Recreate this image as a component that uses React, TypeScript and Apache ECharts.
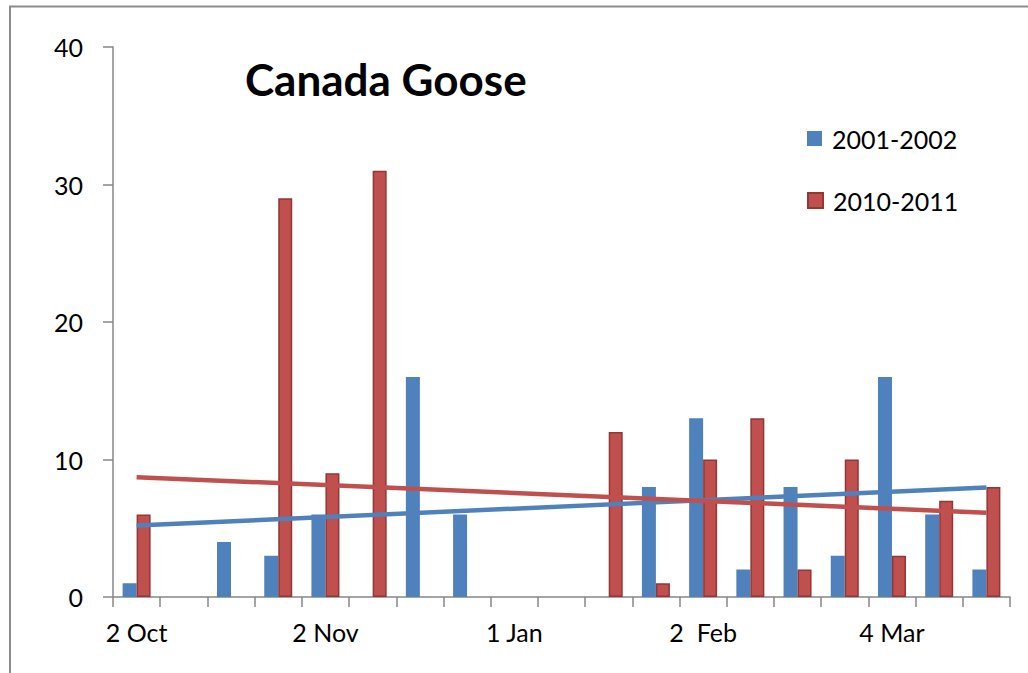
import React, { useEffect, useRef } from "react";
import * as echarts from "echarts";

const FONT = "Lato, 'Open Sans', 'Noto Sans', sans-serif";

// Survey weeks along the category axis; only some carry a date label
const weekLabels = [
  "2 Oct", "", "", "", "2 Nov", "", "", "", "1 Jan", "", "", "",
  "2  Feb", "", "", "", "4 Mar", "", "",
];
const weekKeys = weekLabels.map((_, i) => `w${i + 1}`);

// 2001-2002 season counts (null = no count recorded that week)
const counts2001: (number | null)[] = [
  1, null, 4, 3, 6, null, 16, 6, null, null, null, 8, 13, 2, 8, 3, 16, 6, 2,
];
// 2010-2011 season counts
const counts2010: number[] = [
  6, 0, 0, 29, 9, 31, 0, 0, 0, 0, 12, 1, 10, 13, 2, 10, 3, 7, 8,
];

const BLUE = "#4F81BD";
const RED = "#C0504D";
const RED_EDGE = "#933634";
const AXIS_GREY = "#878787";

// Least-squares linear trend over the recorded weeks, returned as its two end points
function linearTrend(values: (number | null)[]): [number, number][] {
  const pts = values
    .map((v, i) => [i, v] as [number, number | null])
    .filter((p) => p[1] !== null) as [number, number][];
  const n = pts.length;
  const mx = pts.reduce((s, p) => s + p[0], 0) / n;
  const my = pts.reduce((s, p) => s + p[1], 0) / n;
  let sxy = 0;
  let sxx = 0;
  for (const [x, y] of pts) {
    sxy += (x - mx) * (y - my);
    sxx += (x - mx) * (x - mx);
  }
  const slope = sxy / sxx;
  const icpt = my - slope * mx;
  const last = values.length - 1;
  return [
    [0, icpt],
    [last, icpt + slope * last],
  ];
}

export default function App() {
  const ref = useRef<HTMLDivElement>(null);

  useEffect(() => {
    if (!ref.current) return;
    const chart = echarts.init(ref.current, undefined, { renderer: "svg" });

    const textBase = { fontFamily: FONT, color: "#000", fontSize: 25 };

    chart.setOption({
      animation: false,
      backgroundColor: "#fff",
      title: {
        text: "Canada Goose",
        left: 245,
        top: 57,
        padding: 0,
        textStyle: { ...textBase, fontSize: 44, fontWeight: "bold" },
      },
      legend: [
        {
          data: ["2001-2002"],
          left: 807,
          top: 126,
          padding: 0,
          icon: "rect",
          itemWidth: 15,
          itemHeight: 15,
          textStyle: { ...textBase, padding: [0, 0, 0, 5] },
        },
        {
          data: ["2010-2011"],
          left: 807,
          top: 188,
          padding: 0,
          icon: "rect",
          itemWidth: 15,
          itemHeight: 15,
          textStyle: { ...textBase, padding: [0, 0, 0, 5] },
        },
      ],
      graphic: [
        {
          type: "rect",
          shape: { x: 10, y: 6.5, width: 1200, height: 1000 },
          style: { fill: "none", stroke: "#8c8c8c", lineWidth: 2 },
          silent: true,
          z: -1,
        },
      ],
      grid: { left: 113, right: 18, top: 47, bottom: 76 },
      xAxis: {
        type: "category",
        data: weekKeys,
        boundaryGap: true,
        axisLine: { show: true, lineStyle: { color: AXIS_GREY, width: 1.5 } },
        axisTick: {
          show: true,
          interval: 0,
          alignWithLabel: false,
          length: 10,
          lineStyle: { color: AXIS_GREY, width: 1.5 },
        },
        axisLabel: {
          ...textBase,
          interval: 0,
          margin: 22,
          formatter: (_: string, i: number) => weekLabels[i],
        },
        splitLine: { show: false },
      },
      yAxis: {
        type: "value",
        min: 0,
        max: 40,
        interval: 10,
        axisLine: { show: true, lineStyle: { color: AXIS_GREY, width: 1.5 } },
        axisTick: { show: true, length: 10, lineStyle: { color: AXIS_GREY, width: 1.5 } },
        axisLabel: { ...textBase, margin: 30 },
        splitLine: { show: false },
      },
      series: [
        {
          name: "2001-2002",
          type: "bar",
          data: counts2001,
          barWidth: 14,
          barGap: "0%",
          itemStyle: { color: BLUE },
        },
        {
          name: "2010-2011",
          type: "bar",
          data: counts2010.map((v) =>
            v === 0 ? { value: 0, itemStyle: { borderWidth: 0 } } : v
          ),
          barWidth: 14,
          barGap: "0%",
          itemStyle: { color: RED, borderColor: RED_EDGE, borderWidth: 1.5 },
        },
        {
          name: "Linear (2001-2002)",
          type: "line",
          data: linearTrend(counts2001),
          showSymbol: false,
          symbol: "none",
          lineStyle: { color: BLUE, width: 4.5 },
          z: 3,
        },
        {
          name: "Linear (2010-2011)",
          type: "line",
          data: linearTrend(counts2010),
          showSymbol: false,
          symbol: "none",
          lineStyle: { color: RED, width: 4.5 },
          z: 3,
        },
      ],
    });

    return () => chart.dispose();
  }, []);

  return (
    <div
      ref={ref}
      style={{ position: "fixed", left: 0, top: 0, width: 1028, height: 673 }}
    />
  );
}
